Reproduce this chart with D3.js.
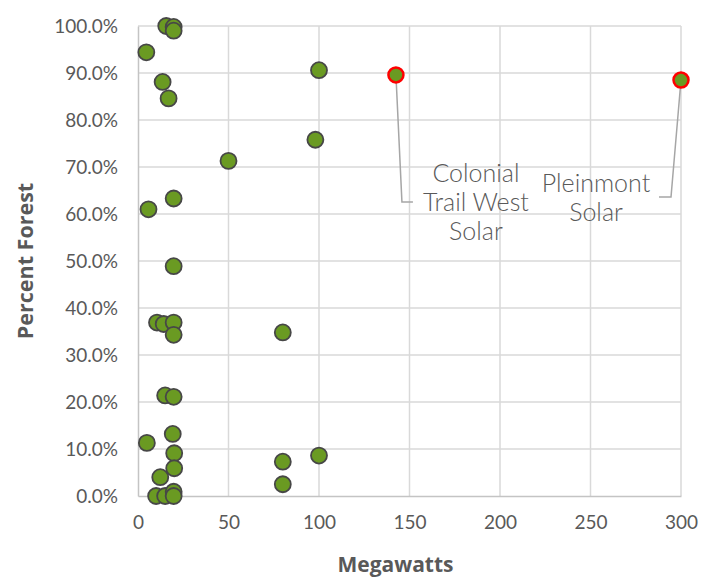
<!DOCTYPE html>
<html>
<head>
<meta charset="utf-8">
<script src="https://cdn.jsdelivr.net/npm/d3@7"></script>
<style>
  html, body { margin: 0; padding: 0; background: #fff; }
  svg { display: block; }
</style>
</head>
<body>
<svg id="chart" width="719" height="581"></svg>
<script>
// ---- data ----
const megawatts = [15.6, 19.7, 19.7, 4.6, 13.6, 16.9, 100, 98, 50, 19.7, 5.8, 19.7,
  10.5, 14.2, 19.7, 19.7, 80, 15, 19.7, 4.9, 19.2, 20, 20, 12.3, 10, 15, 19.7, 19.7, 80, 80, 100];
const percentForest = [1.0, 0.998, 0.99, 0.944, 0.881, 0.846, 0.906, 0.758, 0.713, 0.633, 0.610, 0.489,
  0.369, 0.366, 0.369, 0.343, 0.348, 0.214, 0.211, 0.113, 0.132, 0.091, 0.059, 0.040, 0.0, 0.0, 0.009, 0.0, 0.073, 0.025, 0.086];
const highlightNames = ["Colonial Trail West Solar", "Pleinmont Solar"];
const highlightMW = [142.5, 300];
const highlightPF = [0.896, 0.885];
const highlightLines = [["Colonial", "Trail West", "Solar"], ["Pleinmont", "Solar"]];
const xTicks = [0, 50, 100, 150, 200, 250, 300];
const yTicks = [0, 0.1, 0.2, 0.3, 0.4, 0.5, 0.6, 0.7, 0.8, 0.9, 1.0];

// ---- layout ----
const W = 719, H = 581;
const margin = { left: 138, right: 38, top: 26, bottom: 85 };
const svg = d3.select("#chart");
const x = d3.scaleLinear().domain([0, 300]).range([margin.left, W - margin.right]);
const y = d3.scaleLinear().domain([0, 1]).range([H - margin.bottom, margin.top]);
const textColor = "#595959";
const fontFam = "Lato, 'Open Sans', sans-serif";
const titleFam = "'Open Sans', Lato, sans-serif";

// gridlines
svg.append("g").selectAll("line.v").data(xTicks.slice(1)).join("line")
  .attr("x1", d => x(d)).attr("x2", d => x(d))
  .attr("y1", y(0)).attr("y2", y(1))
  .attr("stroke", "#d9d9d9").attr("stroke-width", 1.5);
svg.append("g").selectAll("line.h").data(yTicks.slice(1)).join("line")
  .attr("x1", x(0)).attr("x2", x(300))
  .attr("y1", d => y(d)).attr("y2", d => y(d))
  .attr("stroke", "#d9d9d9").attr("stroke-width", 1.5);

// axes
const xAxis = svg.append("g").attr("transform", `translate(0,${y(0)})`)
  .call(d3.axisBottom(x).tickValues(xTicks).tickSize(0).tickPadding(20).tickFormat(d3.format("d")));
const yAxis = svg.append("g").attr("transform", `translate(${x(0)},0)`)
  .call(d3.axisLeft(y).tickValues(yTicks).tickSize(0).tickPadding(20).tickFormat(d3.format(".1%")));
[xAxis, yAxis].forEach(g => {
  g.select(".domain").attr("stroke", "#c4c4c4").attr("stroke-width", 1.5);
  g.selectAll("text").attr("fill", textColor).attr("font-family", fontFam)
    .attr("font-size", 19).attr("font-weight", 400);
});
yAxis.selectAll("text").attr("dy", "0.35em");

// axis titles
svg.append("text").attr("x", (x(0) + x(300)) / 2 - 14).attr("y", 572)
  .attr("text-anchor", "middle").attr("fill", textColor)
  .attr("font-family", titleFam).attr("font-weight", 700).attr("font-size", 21)
  .text("Megawatts");
svg.append("text").attr("transform", `translate(33,${(y(0) + y(1)) / 2}) rotate(-90)`)
  .attr("text-anchor", "middle").attr("fill", textColor)
  .attr("font-family", titleFam).attr("font-weight", 700).attr("font-size", 21.5)
  .text("Percent Forest");

// points
const pts = megawatts.map((m, i) => ({ m, p: percentForest[i] }));
svg.append("g").selectAll("circle").data(pts).join("circle")
  .attr("cx", d => x(d.m)).attr("cy", d => y(d.p)).attr("r", 8)
  .attr("fill", "#6a9a22").attr("stroke", "#474747").attr("stroke-width", 1.8);

// highlighted points with leader lines and labels
const hl = highlightNames.map((n, i) => ({ n, m: highlightMW[i], p: highlightPF[i], lines: highlightLines[i] }));
const leaderOffsets = [[[6, 127], [17, 127]], [[-10, 117], [-22, 117]]];
const labelOffsets = [[80, 107], [-85, 111.5]];
hl.forEach((d, i) => {
  const cx = x(d.m), cy = y(d.p);
  const pth = d3.path();
  pth.moveTo(cx, cy);
  leaderOffsets[i].forEach(o => pth.lineTo(cx + o[0], cy + o[1]));
  svg.append("path").attr("d", pth.toString()).attr("fill", "none")
    .attr("stroke", "#a6a6a6").attr("stroke-width", 1.5);
  svg.append("circle").attr("cx", cx).attr("cy", cy).attr("r", 7.5)
    .attr("fill", "#6a9a22").attr("stroke", "#ff0000").attr("stroke-width", 2.5);
  const t = svg.append("text").attr("text-anchor", "middle").attr("fill", textColor)
    .attr("font-family", fontFam).attr("font-weight", 300).attr("font-size", 25);
  d.lines.forEach((ln, k) => {
    t.append("tspan").attr("x", cx + labelOffsets[i][0]).attr("y", cy + labelOffsets[i][1] + k * 29).text(ln);
  });
});
</script>
</body>
</html>
